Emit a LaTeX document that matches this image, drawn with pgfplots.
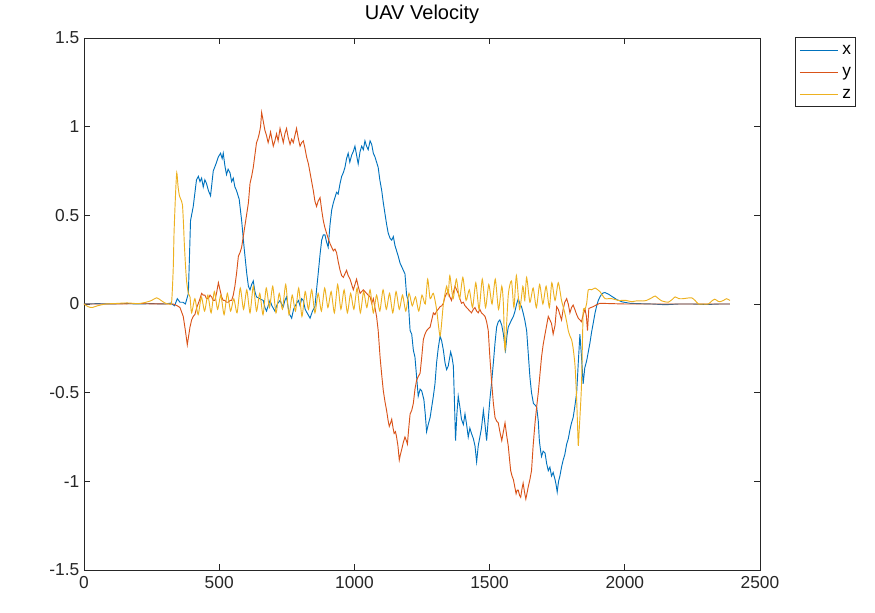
\documentclass[border=0pt]{standalone}
\usepackage{pgfplots}
\pgfplotsset{compat=1.18}
\usepackage{fontspec}
\setmainfont{Liberation Sans}
\definecolor{mx}{rgb}{0,0.447,0.741}
\definecolor{my}{rgb}{0.85,0.325,0.098}
\definecolor{mz}{rgb}{0.929,0.694,0.125}
\definecolor{axgray}{rgb}{0.15,0.15,0.15}
\begin{document}
\begin{tikzpicture}
\useasboundingbox (-63pt,-32.25pt) rectangle (593.25pt,427.5pt);
\begin{axis}[
  at={(0pt,0pt)}, anchor=south west,
  width=507pt, height=399pt, scale only axis,
  xmin=0, xmax=2500, ymin=-1.5, ymax=1.5,
  xtick={0,500,1000,1500,2000,2500},
  ytick={-1.5,-1,-0.5,0,0.5,1,1.5},
  yticklabels={-1.5,-1,-0.5,0,0.5,1,1.5},
  xticklabels={0,500,1000,1500,2000,2500},
  tick align=inside, major tick length=4.5pt,
  tick style={axgray, line width=0.5pt},
  axis line style={axgray, line width=0.5pt},
  ticklabel style={font=\fontsize{13}{15}\selectfont, text=axgray},
  xticklabel style={yshift=-1pt},
  title={UAV Velocity},
  title style={font=\fontsize{15}{17}\selectfont, at={(0.5,1)}, anchor=base, yshift=7.5pt, text=black},
  legend style={at={(1.0518,1.0019)}, anchor=north west, draw=axgray, line width=0.5pt,
    font=\fontsize{13}{15}\selectfont, inner xsep=3pt, inner ysep=6pt, row sep=9.5pt, column sep=2.5pt,
    nodes={inner sep=0pt, text height=7pt, text depth=0pt}},
  legend cell align=left,
  legend image code/.code={\draw[#1, line width=0.7pt] (0pt,0pt) -- (29pt,0pt);},
  every axis plot/.append style={line width=0.7pt},
]
\addplot[mx] coordinates {
(0,0)(50,0.002)(100,0)(150,0.003)(200,0)(250,0.002)(300,0)(320,0.005)(335,-0.01)(345,0.03)(355,0.01)(366,0.01)(375,0.0)(386,0.06)(394,0.47)(404,0.55)(416,0.70)(423,0.72)(429,0.69)(435,0.71)(441,0.66)(447,0.70)(453,0.68)(460,0.64)(468,0.61)(478,0.75)(488,0.79)(497,0.83)(505,0.85)(511,0.82)(515,0.85)(521,0.78)(527,0.73)(533,0.76)(540,0.74)(546,0.69)(552,0.71)(558,0.66)(564,0.64)(570,0.61)(574,0.59)(583,0.47)(592,0.32)(602,0.17)(608,0.10)(614,0.08)(620,0.11)(626,0.13)(632,0.07)(638,0.04)(650,0.03)(663,0.02)(669,-0.02)(675,-0.04)(681,-0.01)(688,0.02)(695,-0.01)(706,-0.04)(715,0.0)(725,0.02)(731,0.0)(737,-0.015)(743,0.02)(749,0.04)(755,-0.02)(761,-0.06)(768,-0.08)(775,-0.03)(786,0.004)(793,0.02)(799,-0.01)(805,0.03)(811,0.02)(818,-0.03)(825,-0.05)(836,-0.08)(845,-0.04)(854,-0.015)(860,0.08)(866,0.17)(873,0.28)(879,0.36)(885,0.39)(891,0.39)(897,0.35)(903,0.32)(910,0.45)(916,0.53)(922,0.57)(928,0.60)(934,0.63)(940,0.62)(947,0.68)(953,0.72)(959,0.74)(965,0.77)(971,0.82)(977,0.85)(983,0.80)(990,0.84)(996,0.86)(1002,0.89)(1008,0.84)(1014,0.79)(1021,0.86)(1027,0.89)(1033,0.87)(1039,0.92)(1045,0.89)(1051,0.87)(1058,0.92)(1064,0.90)(1070,0.85)(1076,0.83)(1082,0.80)(1088,0.77)(1094,0.70)(1101,0.64)(1107,0.57)(1113,0.51)(1119,0.45)(1125,0.40)(1132,0.37)(1138,0.36)(1144,0.38)(1150,0.33)(1156,0.30)(1162,0.27)(1169,0.23)(1175,0.21)(1181,0.19)(1187,0.17)(1193,0.05)(1199,0.02)(1206,-0.15)(1212,-0.17)(1218,-0.26)(1224,-0.30)(1230,-0.41)(1236,-0.52)(1243,-0.48)(1249,-0.49)(1257,-0.54)(1262,-0.62)(1267,-0.72)(1273,-0.68)(1280,-0.64)(1286,-0.58)(1292,-0.52)(1298,-0.45)(1304,-0.33)(1310,-0.25)(1317,-0.18)(1323,-0.21)(1329,-0.26)(1335,-0.33)(1341,-0.37)(1347,-0.35)(1356,-0.27)(1361,-0.30)(1366,-0.35)(1370,-0.55)(1374,-0.77)(1379,-0.62)(1384,-0.52)(1390,-0.58)(1396,-0.65)(1403,-0.68)(1409,-0.62)(1415,-0.68)(1421,-0.75)(1427,-0.70)(1433,-0.73)(1440,-0.76)(1446,-0.80)(1452,-0.89)(1458,-0.80)(1464,-0.75)(1470,-0.70)(1477,-0.60)(1483,-0.68)(1489,-0.77)(1495,-0.65)(1501,-0.54)(1507,-0.45)(1514,-0.33)(1520,-0.22)(1526,-0.13)(1532,-0.10)(1538,-0.09)(1545,-0.12)(1551,-0.17)(1555,-0.22)(1559,-0.26)(1564,-0.18)(1569,-0.13)(1575,-0.11)(1581,-0.09)(1588,-0.07)(1594,-0.04)(1600,0.0)(1606,0.03)(1612,0.0)(1618,-0.015)(1624,-0.05)(1630,-0.09)(1637,-0.15)(1643,-0.28)(1649,-0.41)(1655,-0.50)(1662,-0.56)(1668,-0.57)(1674,-0.58)(1680,-0.66)(1684,-0.77)(1688,-0.82)(1692,-0.86)(1698,-0.83)(1705,-0.84)(1711,-0.90)(1717,-0.94)(1723,-0.92)(1729,-0.97)(1735,-0.95)(1742,-0.99)(1746,-1.02)(1750,-1.06)(1755,-1.00)(1760,-0.97)(1766,-0.92)(1772,-0.88)(1778,-0.85)(1785,-0.79)(1791,-0.76)(1797,-0.71)(1803,-0.67)(1809,-0.64)(1815,-0.58)(1822,-0.50)(1828,-0.33)(1834,-0.17)(1840,-0.30)(1846,-0.45)(1852,-0.36)(1859,-0.32)(1865,-0.27)(1871,-0.22)(1877,-0.16)(1883,-0.11)(1890,-0.05)(1896,-0.01)(1902,0.02)(1908,0.04)(1915,0.057)(1921,0.063)(1927,0.064)(1940,0.055)(1955,0.04)(1970,0.025)(1990,0.012)(2019,0.004)(2050,0.002)(2100,0.0)(2150,-0.004)(2200,0.0)(2250,0.0)(2300,-0.003)(2350,0)(2389,0)
};
\addlegendentry{x}
\addplot[my] coordinates {
(0,0)(100,0)(200,0.002)(300,0)(330,0)(345,-0.01)(355,-0.02)(367,-0.07)(375,-0.15)(382,-0.23)(387,-0.18)(392,-0.13)(398,-0.09)(404,-0.07)(410,-0.06)(417,-0.02)(423,0.004)(429,0.03)(435,0.06)(441,0.05)(447,0.05)(453,0.03)(460,0.03)(466,0.05)(472,0.04)(478,0.02)(484,0.02)(490,0.06)(497,0.12)(503,0.08)(509,0.04)(515,0.02)(521,0.02)(527,0.01)(533,0.01)(540,0.02)(546,0.02)(552,0.05)(558,0.10)(564,0.17)(571,0.27)(577,0.29)(583,0.32)(589,0.38)(595,0.44)(601,0.50)(608,0.57)(614,0.68)(620,0.72)(626,0.77)(632,0.84)(638,0.91)(643,0.93)(648,0.96)(653,1.00)(657,1.08)(663,1.03)(669,0.98)(675,0.95)(681,0.91)(686,0.94)(690,0.97)(695,0.93)(700,0.89)(706,0.92)(712,0.96)(718,0.92)(725,0.99)(731,0.95)(737,0.91)(743,0.96)(749,0.99)(755,0.94)(762,0.90)(768,0.93)(774,0.91)(780,0.95)(786,0.99)(793,0.93)(799,0.89)(805,0.91)(811,0.92)(817,0.88)(823,0.83)(830,0.79)(836,0.74)(842,0.69)(848,0.64)(854,0.58)(860,0.55)(866,0.58)(873,0.60)(879,0.53)(885,0.47)(891,0.43)(897,0.40)(903,0.37)(910,0.34)(916,0.32)(922,0.30)(928,0.31)(934,0.29)(940,0.24)(947,0.19)(953,0.16)(959,0.15)(965,0.17)(971,0.19)(977,0.16)(984,0.14)(990,0.11)(996,0.08)(1002,0.11)(1008,0.14)(1014,0.10)(1021,0.06)(1027,0.07)(1033,0.08)(1039,0.07)(1045,0.06)(1051,0.05)(1058,0.04)(1064,0.004)(1070,0.03)(1076,-0.02)(1082,-0.07)(1088,-0.15)(1095,-0.30)(1101,-0.40)(1107,-0.49)(1113,-0.55)(1119,-0.60)(1125,-0.66)(1129,-0.69)(1134,-0.67)(1138,-0.65)(1143,-0.70)(1147,-0.73)(1152,-0.72)(1156,-0.75)(1161,-0.80)(1166,-0.88)(1170,-0.85)(1175,-0.82)(1181,-0.78)(1187,-0.75)(1192,-0.77)(1196,-0.79)(1201,-0.70)(1206,-0.62)(1212,-0.60)(1218,-0.56)(1224,-0.48)(1230,-0.43)(1236,-0.41)(1243,-0.39)(1249,-0.30)(1255,-0.20)(1261,-0.17)(1267,-0.15)(1273,-0.14)(1280,-0.13)(1286,-0.09)(1292,-0.05)(1298,-0.06)(1304,-0.04)(1310,-0.03)(1317,-0.015)(1323,-0.01)(1329,0.004)(1335,0.04)(1341,0.06)(1347,0.07)(1353,0.04)(1359,0.02)(1365,0.06)(1372,0.10)(1378,0.08)(1384,0.06)(1390,0.03)(1396,0.004)(1403,0.01)(1409,-0.01)(1415,-0.02)(1421,-0.03)(1427,-0.04)(1433,-0.05)(1440,-0.03)(1446,-0.02)(1452,-0.04)(1458,-0.05)(1464,-0.03)(1470,-0.05)(1477,-0.06)(1483,-0.07)(1489,-0.10)(1495,-0.15)(1501,-0.30)(1508,-0.45)(1514,-0.56)(1520,-0.64)(1526,-0.66)(1532,-0.67)(1538,-0.72)(1545,-0.77)(1551,-0.72)(1557,-0.67)(1563,-0.74)(1569,-0.80)(1574,-0.88)(1578,-0.94)(1583,-0.97)(1588,-0.99)(1593,-1.03)(1598,-1.07)(1602,-1.05)(1606,-1.05)(1611,-1.08)(1615,-1.09)(1620,-1.04)(1624,-1.01)(1629,-1.06)(1634,-1.10)(1638,-1.07)(1643,-1.03)(1649,-0.99)(1655,-0.94)(1661,-0.80)(1668,-0.67)(1674,-0.58)(1680,-0.50)(1686,-0.40)(1692,-0.30)(1698,-0.23)(1705,-0.17)(1711,-0.12)(1717,-0.07)(1723,-0.09)(1729,-0.11)(1735,-0.17)(1742,-0.12)(1748,-0.015)(1754,-0.03)(1760,-0.06)(1766,-0.09)(1772,-0.03)(1778,0.01)(1785,0.03)(1791,0.0)(1797,-0.05)(1803,-0.02)(1809,-0.006)(1815,-0.03)(1822,-0.06)(1828,-0.08)(1834,-0.09)(1840,-0.10)(1846,-0.06)(1853,-0.03)(1858,-0.07)(1862,-0.15)(1867,-0.025)(1875,-0.02)(1883,-0.015)(1895,-0.005)(1908,0.004)(1930,0.003)(2000,0)(2100,0)(2200,0)(2300,0)(2389,0)
};
\addlegendentry{y}
\addplot[mz, smooth, tension=0.4] coordinates {
(0,0)(15,-0.015)(30,-0.02)(50,-0.01)(80,0.0)(120,0.003)(160,0.006)(200,0.002)(230,0.01)(250,0.02)(269,0.035)(285,0.02)(300,0.005)(315,0.0)(324,0.01)(330,0.2)(333,0.40)(338,0.60)(343,0.74)(348,0.66)(353,0.61)(358,0.59)(364,0.56)(368,0.45)(371,0.34)(376,0.2)(380,0.12)(386,0.06)(392,0.04)
(398,-0.05)(410,0.03)(422,-0.06)(434,0.04)(446,-0.04)(458,0.05)(470,-0.05)(482,0.07)(494,-0.03)(506,0.05)(518,-0.06)(530,0.06)(542,-0.04)(554,0.03)(566,-0.05)(578,0.09)(590,-0.03)(602,0.08)(614,-0.05)(626,0.10)(638,-0.04)(650,0.06)(662,-0.06)(674,0.09)(686,-0.02)(698,0.10)(710,-0.05)(722,0.06)(734,-0.03)(746,0.11)(758,-0.06)(770,0.05)(782,-0.04)(794,0.09)(806,-0.07)(818,0.07)(830,-0.03)(842,0.08)(854,-0.05)(866,0.06)(878,-0.04)(890,0.09)(902,-0.02)(914,0.07)(926,-0.05)(938,0.11)(950,-0.03)(962,0.08)(974,-0.05)(986,0.06)(998,-0.03)(1010,0.09)(1022,-0.05)(1034,0.07)(1046,-0.02)(1058,0.08)(1070,-0.05)(1082,0.05)(1094,-0.04)(1106,0.08)(1118,-0.03)(1130,0.06)(1142,-0.05)(1154,0.07)(1166,-0.03)(1178,0.05)(1190,-0.04)(1202,0.06)(1214,-0.01)(1226,0.04)(1238,-0.04)(1250,0.05)(1262,0.0)(1271,0.14)(1280,0.03)(1292,0.06)(1304,-0.03)(1317,-0.18)(1329,0.0)(1341,0.10)(1347,0.05)(1353,0.16)(1365,0.03)(1377,0.14)(1389,0.03)(1401,0.15)(1413,0.02)(1425,0.08)(1437,-0.02)(1449,0.12)(1461,-0.03)(1473,0.14)(1485,-0.02)(1497,0.11)(1509,0.0)(1521,0.14)(1533,-0.03)(1545,0.10)(1551,0.0)(1557,-0.26)(1569,0.05)(1581,0.13)(1590,-0.02)(1599,0.16)(1611,-0.03)(1623,0.10)(1630,0.02)(1637,0.15)(1649,0.01)(1661,0.09)(1673,-0.02)(1685,0.11)(1697,0.0)(1709,0.10)(1721,-0.02)(1730,0.12)(1742,0.02)(1754,0.12)(1766,0.02)(1778,-0.05)
(1785,-0.10)(1791,-0.15)(1797,-0.18)(1803,-0.20)(1809,-0.25)(1816,-0.35)(1822,-0.54)(1826,-0.72)(1828,-0.80)(1831,-0.72)(1834,-0.64)(1840,-0.45)(1846,-0.05)(1853,-0.03)(1859,0.004)(1865,0.08)(1877,0.08)(1890,0.09)(1900,0.08)(1908,0.07)(1917,0.05)(1927,0.03)(1940,0.03)(1951,0.03)(1965,0.025)(1976,0.02)(1990,0.02)(2005,0.02)(2025,0.013)(2045,0.018)(2065,0.017)(2080,0.02)(2100,0.035)(2112,0.045)(2125,0.03)(2136,0.018)(2150,0.012)(2161,0.01)(2175,0.025)(2186,0.04)(2200,0.03)(2216,0.03)(2230,0.033)(2247,0.035)(2260,0.02)(2272,0.0)(2290,0.0)(2309,0.0)(2320,0.015)(2333,0.027)(2345,0.015)(2352,0.013)(2365,0.02)(2376,0.03)(2389,0.02)
};
\addlegendentry{z}
\end{axis}
\end{tikzpicture}
\end{document}
